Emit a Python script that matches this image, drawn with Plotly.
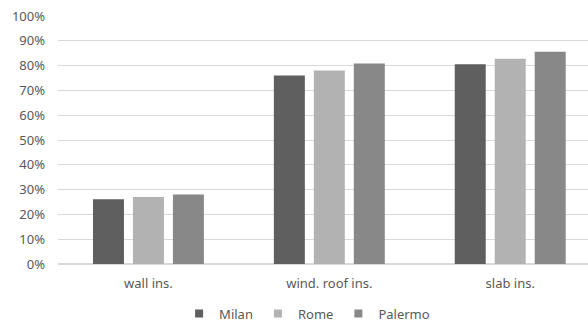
import plotly.graph_objects as go

categories = ["wall ins.", "wind. roof ins.", "slab ins."]
milan = [0.261, 0.76, 0.805]
rome = [0.27, 0.78, 0.828]
palermo = [0.28, 0.808, 0.856]
series_names = ["Milan", "Rome", "Palermo"]
colors = ["#5f5f5f", "#b2b2b2", "#888888"]

fig = go.Figure()
for name, vals, c in zip(series_names, [milan, rome, palermo], colors):
    fig.add_trace(go.Bar(name=name, x=categories, y=vals, legendgroup=name,
                         showlegend=False,
                         marker=dict(color=c, line=dict(width=0))))
# legend keys: small square markers like the original
for name, c in zip(series_names, colors):
    fig.add_trace(go.Scatter(name=name, x=[None], y=[None], mode="markers",
                             legendgroup=name,
                             marker=dict(symbol="square", size=8, color=c)))

font = dict(family="Noto Sans, Open Sans, sans-serif", size=13, color="#595959")
fig.update_layout(
    width=588, height=323,
    margin=dict(l=58, r=0, t=16, b=59, autoexpand=False),
    paper_bgcolor="white", plot_bgcolor="white",
    barmode="group", bargap=0.337, bargroupgap=0.225,
    font=font,
    showlegend=True,
    legend=dict(orientation="h", x=0.47, xanchor="center",
                y=-0.2, yanchor="middle", font=font,
                itemwidth=30, traceorder="normal"),
)
fig.update_xaxes(range=[-0.5, 2.43], showgrid=False, showline=False, ticks="",
                 tickfont=font, ticklabelstandoff=10)
fig.update_yaxes(range=[0, 1.0], dtick=0.1, tickformat=".0%", showgrid=True,
                 gridcolor="#d9d9d9", gridwidth=1, zeroline=True, zerolinecolor="#d9d9d9",
                 showline=False, ticks="", tickfont=font, ticklabelstandoff=12)
fig.write_html("out.html")
